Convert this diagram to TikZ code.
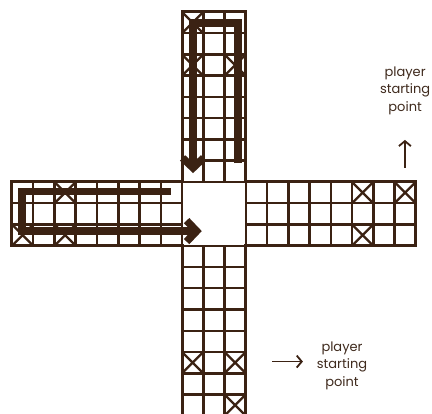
\documentclass[tikz,border=0pt]{standalone}
\usepackage{fontspec}
\setmainfont{Poppins}
\usetikzlibrary{arrows.meta, calc}
\definecolor{boardbrown}{HTML}{3B2213}
\definecolor{labelbrown}{HTML}{3F2A1D}

\begin{document}
\begin{tikzpicture}[x=21.25pt, y=21.25pt, line join=miter,
  boardline/.style={draw=boardbrown, line width=2.5pt},
  boardedge/.style={draw=boardbrown, line width=3pt},
  safecell/.style={draw=boardbrown, line width=2.4pt},
  homepath/.style={draw=boardbrown, line width=7.5pt, -{Straight Barb[length=10pt, width=21pt]}},
  pointer/.style={draw=boardbrown, line width=1.8pt, -{Straight Barb[length=5pt, width=12pt]}},
  startlabel/.style={text=labelbrown, align=center, font=\fontsize{13}{17.5}\selectfont}]
  % Frame
  \clip (-0.5647,0.129) rectangle (19.765,19.565);
  \fill[white] (-0.5647,0.129) rectangle (19.765,19.565);

  % Arms
  \draw[boardline, step=1] (0,8) grid (8,11);
  \draw[boardline, step=1] (11,8) grid (19,11);
  \draw[boardline, step=1] (8,11) grid (11,19);
  \draw[boardline, step=1] (8,0) grid (11,8);

  % Crossed cells
  \foreach \x/\y in {8/18, 8/16, 10/16, 0/8, 2/10, 2/8, 16/10, 18/10, 16/8, 8/2, 10/2, 10/0}
    \draw[safecell] (\x,\y) -- ++(1,1) (\x+1,\y) -- ++(-1,1);

  % Outline
  \draw[boardedge] (0,8) -- (8,8) -- (8,0) -- (11,0) -- (11,8) -- (19,8) -- (19,11)
    -- (11,11) -- (11,19) -- (8,19) -- (8,11) -- (0,11) -- cycle;

  % Home runs
  \draw[homepath] (10.64,11.89) -- (10.64,18.48) -- (8.52,18.48) -- (8.52,11.42);
  \draw[homepath] (7.47,10.55) -- (0.46,10.55) -- (0.46,8.69) -- (8.93,8.69);

  % Start labels
  \node[startlabel] (startA) at (18.5,15.3) {player\\starting\\point};
  \node[startlabel] (startB) at (15.53,2.36) {player\\starting\\point};
  \coordinate (tailA) at (18.49,11.66);
  \coordinate (tipA) at (18.49,12.98);
  \coordinate (tailB) at (12.24,2.55);
  \coordinate (tipB) at (13.69,2.55);
  \draw[pointer] (tailA) -- (tipA);
  \draw[pointer] (tailB) -- (tipB);
\end{tikzpicture}
\end{document}
